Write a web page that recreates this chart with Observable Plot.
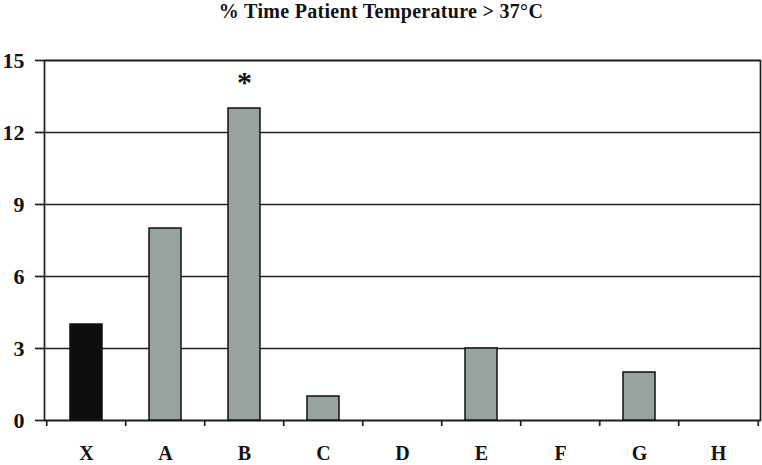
<!DOCTYPE html>
<html>
<head>
<meta charset="utf-8">
<script src="https://cdn.jsdelivr.net/npm/d3@7"></script>
<script src="https://cdn.jsdelivr.net/npm/@observablehq/plot@0.6"></script>
<style>
  html, body { margin: 0; padding: 0; background: #fff; }
  #title {
    width: 762px; height: 22px; line-height: 23px; text-align: center;
    font-family: "Liberation Serif", "Times New Roman", serif; font-weight: bold;
    font-size: 20px; color: #111; overflow: visible; white-space: nowrap;
    letter-spacing: 0.3px;
  }
  #chart svg { display: block; }
</style>
</head>
<body>
<div id="title">% Time Patient Temperature &gt; 37°C</div>
<div id="chart"></div>
<script>
const categories = ["X", "A", "B", "C", "D", "E", "F", "G", "H"];
const values = [4, 8, 13, 1, 0, 3, 0, 2, 0];
const groups = ["reference", "other", "other", "other", "other", "other", "other", "other", "other"];
const yTicks = [0, 3, 6, 9, 12, 15];
const annotationCategories = ["B"];
const annotationLabels = ["*"];

const data = categories.map((c, i) => ({category: c, value: values[i], group: groups[i]}));
const bars = data.filter(d => d.value > 0);
const annotations = annotationCategories.map((c, i) => ({
  category: c, value: values[categories.indexOf(c)], label: annotationLabels[i]
}));

const W = 762, H = 443, mL = 44, mR = 2;
const step = (W - mL - mR) / categories.length;
const ink = "#1e1e1e";

const chart = Plot.plot({
  width: W, height: H,
  marginLeft: mL, marginRight: mR, marginTop: 38, marginBottom: 45,
  style: {
    fontFamily: '"Liberation Serif", "Times New Roman", serif',
    fontWeight: "bold", fontSize: "22px", color: "#111", background: "#fff"
  },
  x: {domain: categories, paddingInner: 0.6, paddingOuter: 0.3, label: null},
  y: {domain: [0, 15], label: null},
  color: {domain: ["reference", "other"], range: ["#0e0e0e", "#98a29f"]},
  marks: [
    Plot.ruleY(yTicks, {stroke: ink, strokeWidth: 1.7}),
    Plot.frame({stroke: ink, strokeWidth: 1.7}),
    Plot.barY(bars, {x: "category", y: "value", fill: "group", stroke: "#111", strokeWidth: 1.5}),
    Plot.axisY({ticks: yTicks, tickSize: 9, tickPadding: 11, label: null, stroke: ink, strokeWidth: 1.7, fontSize: 22}),
    Plot.axisX({ticks: categories, tickSize: 0, tickPadding: 25, label: null, fontSize: 20}),
    Plot.axisX({ticks: categories, tickSize: 6, text: null, dx: -step / 2, label: null, stroke: ink, strokeWidth: 1.7}),
    Plot.axisX({ticks: [categories[categories.length - 1]], tickSize: 6, text: null, dx: step / 2, label: null, stroke: ink, strokeWidth: 1.7}),
    Plot.text(annotations, {x: "category", y: "value", text: "label", dy: -17, lineAnchor: "bottom", fontSize: 30, fontWeight: "bold", fill: "#111"})
  ]
});
document.getElementById("chart").appendChild(chart);
</script>
</body>
</html>
